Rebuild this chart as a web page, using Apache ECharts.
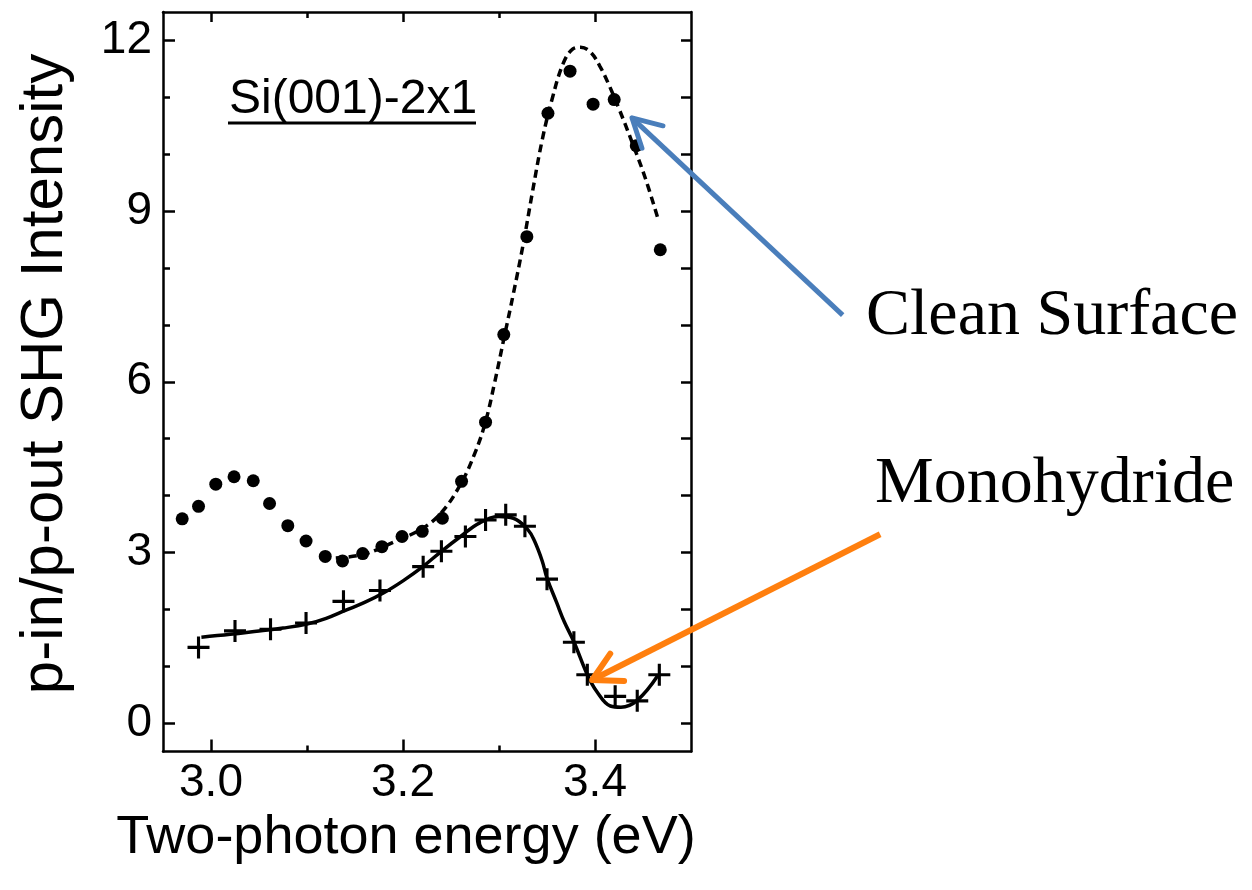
<!DOCTYPE html>
<html><head><meta charset="utf-8">
<script src="https://cdn.jsdelivr.net/npm/echarts@6/dist/echarts.min.js"></script>
<style>html,body{margin:0;padding:0;background:#fff}#c{width:1252px;height:890px}</style>
</head><body><div id="c"></div>
<script>
// ---- data ----
const cleanEnergy    = [2.970, 2.987, 3.005, 3.024, 3.044, 3.061, 3.080, 3.099, 3.119, 3.137, 3.158, 3.178, 3.199, 3.220, 3.241, 3.261, 3.286, 3.305, 3.329, 3.351, 3.374, 3.398, 3.420, 3.443, 3.468];
const cleanIntensity = [3.59, 3.81, 4.20, 4.33, 4.26, 3.86, 3.47, 3.20, 2.93, 2.85, 2.98, 3.10, 3.28, 3.37, 3.60, 4.25, 5.29, 6.83, 8.55, 10.72, 11.46, 10.88, 10.96, 10.15, 8.32];
const cleanFitEnergy    = [3.13, 3.16, 3.19, 3.22, 3.24, 3.26, 3.275, 3.286, 3.295, 3.305, 3.315, 3.325, 3.335, 3.345, 3.355, 3.367, 3.377, 3.385, 3.395, 3.405, 3.415, 3.425, 3.44, 3.452, 3.465];
const cleanFitIntensity = [2.90, 2.97, 3.18, 3.42, 3.70, 4.20, 4.75, 5.30, 5.95, 6.75, 7.55, 8.40, 9.35, 10.25, 10.95, 11.60, 11.85, 11.88, 11.80, 11.55, 11.20, 10.80, 10.15, 9.60, 8.90];
const monoEnergy    = [2.987, 3.025, 3.062, 3.099, 3.138, 3.176, 3.221, 3.240, 3.265, 3.286, 3.307, 3.327, 3.350, 3.378, 3.392, 3.421, 3.444, 3.467];
const monoIntensity = [1.33, 1.62, 1.65, 1.76, 2.14, 2.33, 2.75, 3.02, 3.28, 3.57, 3.66, 3.46, 2.53, 1.42, 0.85, 0.47, 0.39, 0.85];
const monoFitEnergy    = [2.99, 3.02, 3.05, 3.075, 3.10, 3.12, 3.14, 3.16, 3.18, 3.20, 3.22, 3.24, 3.26, 3.28, 3.30, 3.315, 3.33, 3.337, 3.345, 3.35, 3.36, 3.368, 3.378, 3.392, 3.402, 3.416, 3.427, 3.444, 3.466];
const monoFitIntensity = [1.51, 1.56, 1.62, 1.67, 1.74, 1.84, 1.98, 2.12, 2.29, 2.50, 2.74, 3.02, 3.28, 3.52, 3.63, 3.60, 3.40, 3.20, 2.85, 2.55, 2.12, 1.78, 1.43, 0.85, 0.55, 0.30, 0.28, 0.40, 0.85];
const xTickLabels = ['3.0', '3.2', '3.4'];
const xMinorTicks = [3.1, 3.3];
const yTickLabels = ['0', '3', '6', '9', '12'];
const yAllTicks = [0, 1, 2, 3, 4, 5, 6, 7, 8, 9, 10, 11, 12];
const xRange = [2.95, 3.50];
const yRange = [-0.5, 12.5];
const xTitle = 'Two-photon energy (eV)';
const yTitle = 'p-in/p-out SHG Intensity';
const sampleLabel = 'Si(001)-2x1';
const cleanLabel = 'Clean Surface';
const monoLabel = 'Monohydride';
// annotation arrows in data coordinates [tail, tip]
const cleanArrow = [[3.658, 7.17], [3.4385, 10.64]];
const monoArrow = [[3.697, 3.32], [3.397, 0.757]];

const zip = (a, b) => a.map((v, i) => [v, b[i]]);
const xMajor = xTickLabels.map(Number);
const yMajor = yTickLabels.map(Number);
const yMinor = yAllTicks.filter(v => !yMajor.includes(v));
const SANS = "'Liberation Sans', Arial, sans-serif";
const lineS = {color: '#000', width: 2.5};

function xAx(pos, ticks, len, line, labels) {
  return {type: 'value', position: pos, min: xRange[0], max: xRange[1],
    axisLine: {show: line, onZero: false, lineStyle: lineS},
    axisTick: {show: true, inside: true, length: len, customValues: ticks, lineStyle: lineS},
    axisLabel: labels ? {show: true, customValues: ticks, formatter: v => v.toFixed(1), fontSize: 46, fontFamily: SANS, color: '#000', margin: 9} : {show: false},
    splitLine: {show: false}};
}
function yAx(pos, ticks, len, line, labels) {
  return {type: 'value', position: pos, min: yRange[0], max: yRange[1],
    axisLine: {show: line, onZero: false, lineStyle: lineS},
    axisTick: {show: true, inside: true, length: len, customValues: ticks, lineStyle: lineS},
    axisLabel: labels ? {show: true, customValues: ticks, formatter: v => String(v), fontSize: 46, fontFamily: SANS, color: '#000', margin: 11} : {show: false},
    splitLine: {show: false}};
}

const chart = echarts.init(document.getElementById('c'), null, {renderer: 'canvas'});
chart.setOption({
  animation: false,
  backgroundColor: '#fff',
  grid: {left: 163, right: 561, top: 12, bottom: 138.5},
  xAxis: [xAx('bottom', xMajor, 12, true, true), xAx('bottom', xMinorTicks, 6, false, false),
          xAx('top', xMajor, 10, true, false), xAx('top', xMinorTicks, 6, false, false)],
  yAxis: [yAx('left', yMajor, 12, true, true), yAx('left', yMinor, 7, false, false),
          yAx('right', yAllTicks, 10, true, false)],
  series: [
    {type: 'line', name: 'Clean fit', data: zip(cleanFitEnergy, cleanFitIntensity), smooth: 0.4, showSymbol: false,
     lineStyle: {color: '#000', width: 3.5, type: [8, 5]}, z: 2},
    {type: 'scatter', name: 'Clean Surface', data: zip(cleanEnergy, cleanIntensity), symbol: 'circle', symbolSize: 13,
     itemStyle: {color: '#000', opacity: 1}, z: 3},
    {type: 'line', name: 'Monohydride fit', data: zip(monoFitEnergy, monoFitIntensity), smooth: 0.4, showSymbol: false,
     lineStyle: {color: '#000', width: 3.5}, z: 2},
    {type: 'scatter', name: 'Monohydride', data: zip(monoEnergy, monoIntensity),
     symbol: 'path://M10.3,0h3.4v24h-3.4z M0,10.3h24v3.4h-24z', symbolSize: 22,
     itemStyle: {color: '#000', opacity: 1}, z: 3}
  ]
});

function arrow(pts, color, w) {
  const a = chart.convertToPixel({xAxisIndex: 0, yAxisIndex: 0}, pts[0]);
  const b = chart.convertToPixel({xAxisIndex: 0, yAxisIndex: 0}, pts[1]);
  const ang = Math.atan2(a[1] - b[1], a[0] - b[0]);
  const L = 32, s = 0.5;
  const h1 = [b[0] + L * Math.cos(ang + s), b[1] + L * Math.sin(ang + s)];
  const h2 = [b[0] + L * Math.cos(ang - s), b[1] + L * Math.sin(ang - s)];
  return [
    {type: 'polyline', shape: {points: [a, b]}, style: {stroke: color, lineWidth: w, fill: null}, z: 10},
    {type: 'polyline', shape: {points: [h1, b, h2]}, style: {stroke: color, lineWidth: w, fill: null, lineCap: 'round', lineJoin: 'round'}, z: 10}
  ];
}

chart.setOption({graphic: [
  {type: 'text', x: 406, y: 838, style: {text: xTitle, font: "54px " + SANS, fill: '#000', align: 'center', verticalAlign: 'middle'}},
  {type: 'text', x: 45, y: 374, rotation: Math.PI / 2, style: {text: yTitle, font: "60px " + SANS, fill: '#000', align: 'center', verticalAlign: 'middle'}},
  {type: 'text', x: 229, y: 100, style: {text: sampleLabel, font: "48px " + SANS, fill: '#000', align: 'left', verticalAlign: 'middle'}},
  {type: 'line', shape: {x1: 228, y1: 123, x2: 476, y2: 123}, style: {stroke: '#000', lineWidth: 3}},
  {type: 'text', x: 866, y: 317, style: {text: cleanLabel, font: "66px 'Liberation Serif', serif", fill: '#000', align: 'left', verticalAlign: 'middle'}},
  {type: 'text', x: 875, y: 485, style: {text: monoLabel, font: "66px 'Liberation Serif', serif", fill: '#000', align: 'left', verticalAlign: 'middle'}},
  ...arrow(cleanArrow, '#4A7EBB', 5),
  ...arrow(monoArrow, '#FF7F0E', 6)
]});
</script>
</body></html>
